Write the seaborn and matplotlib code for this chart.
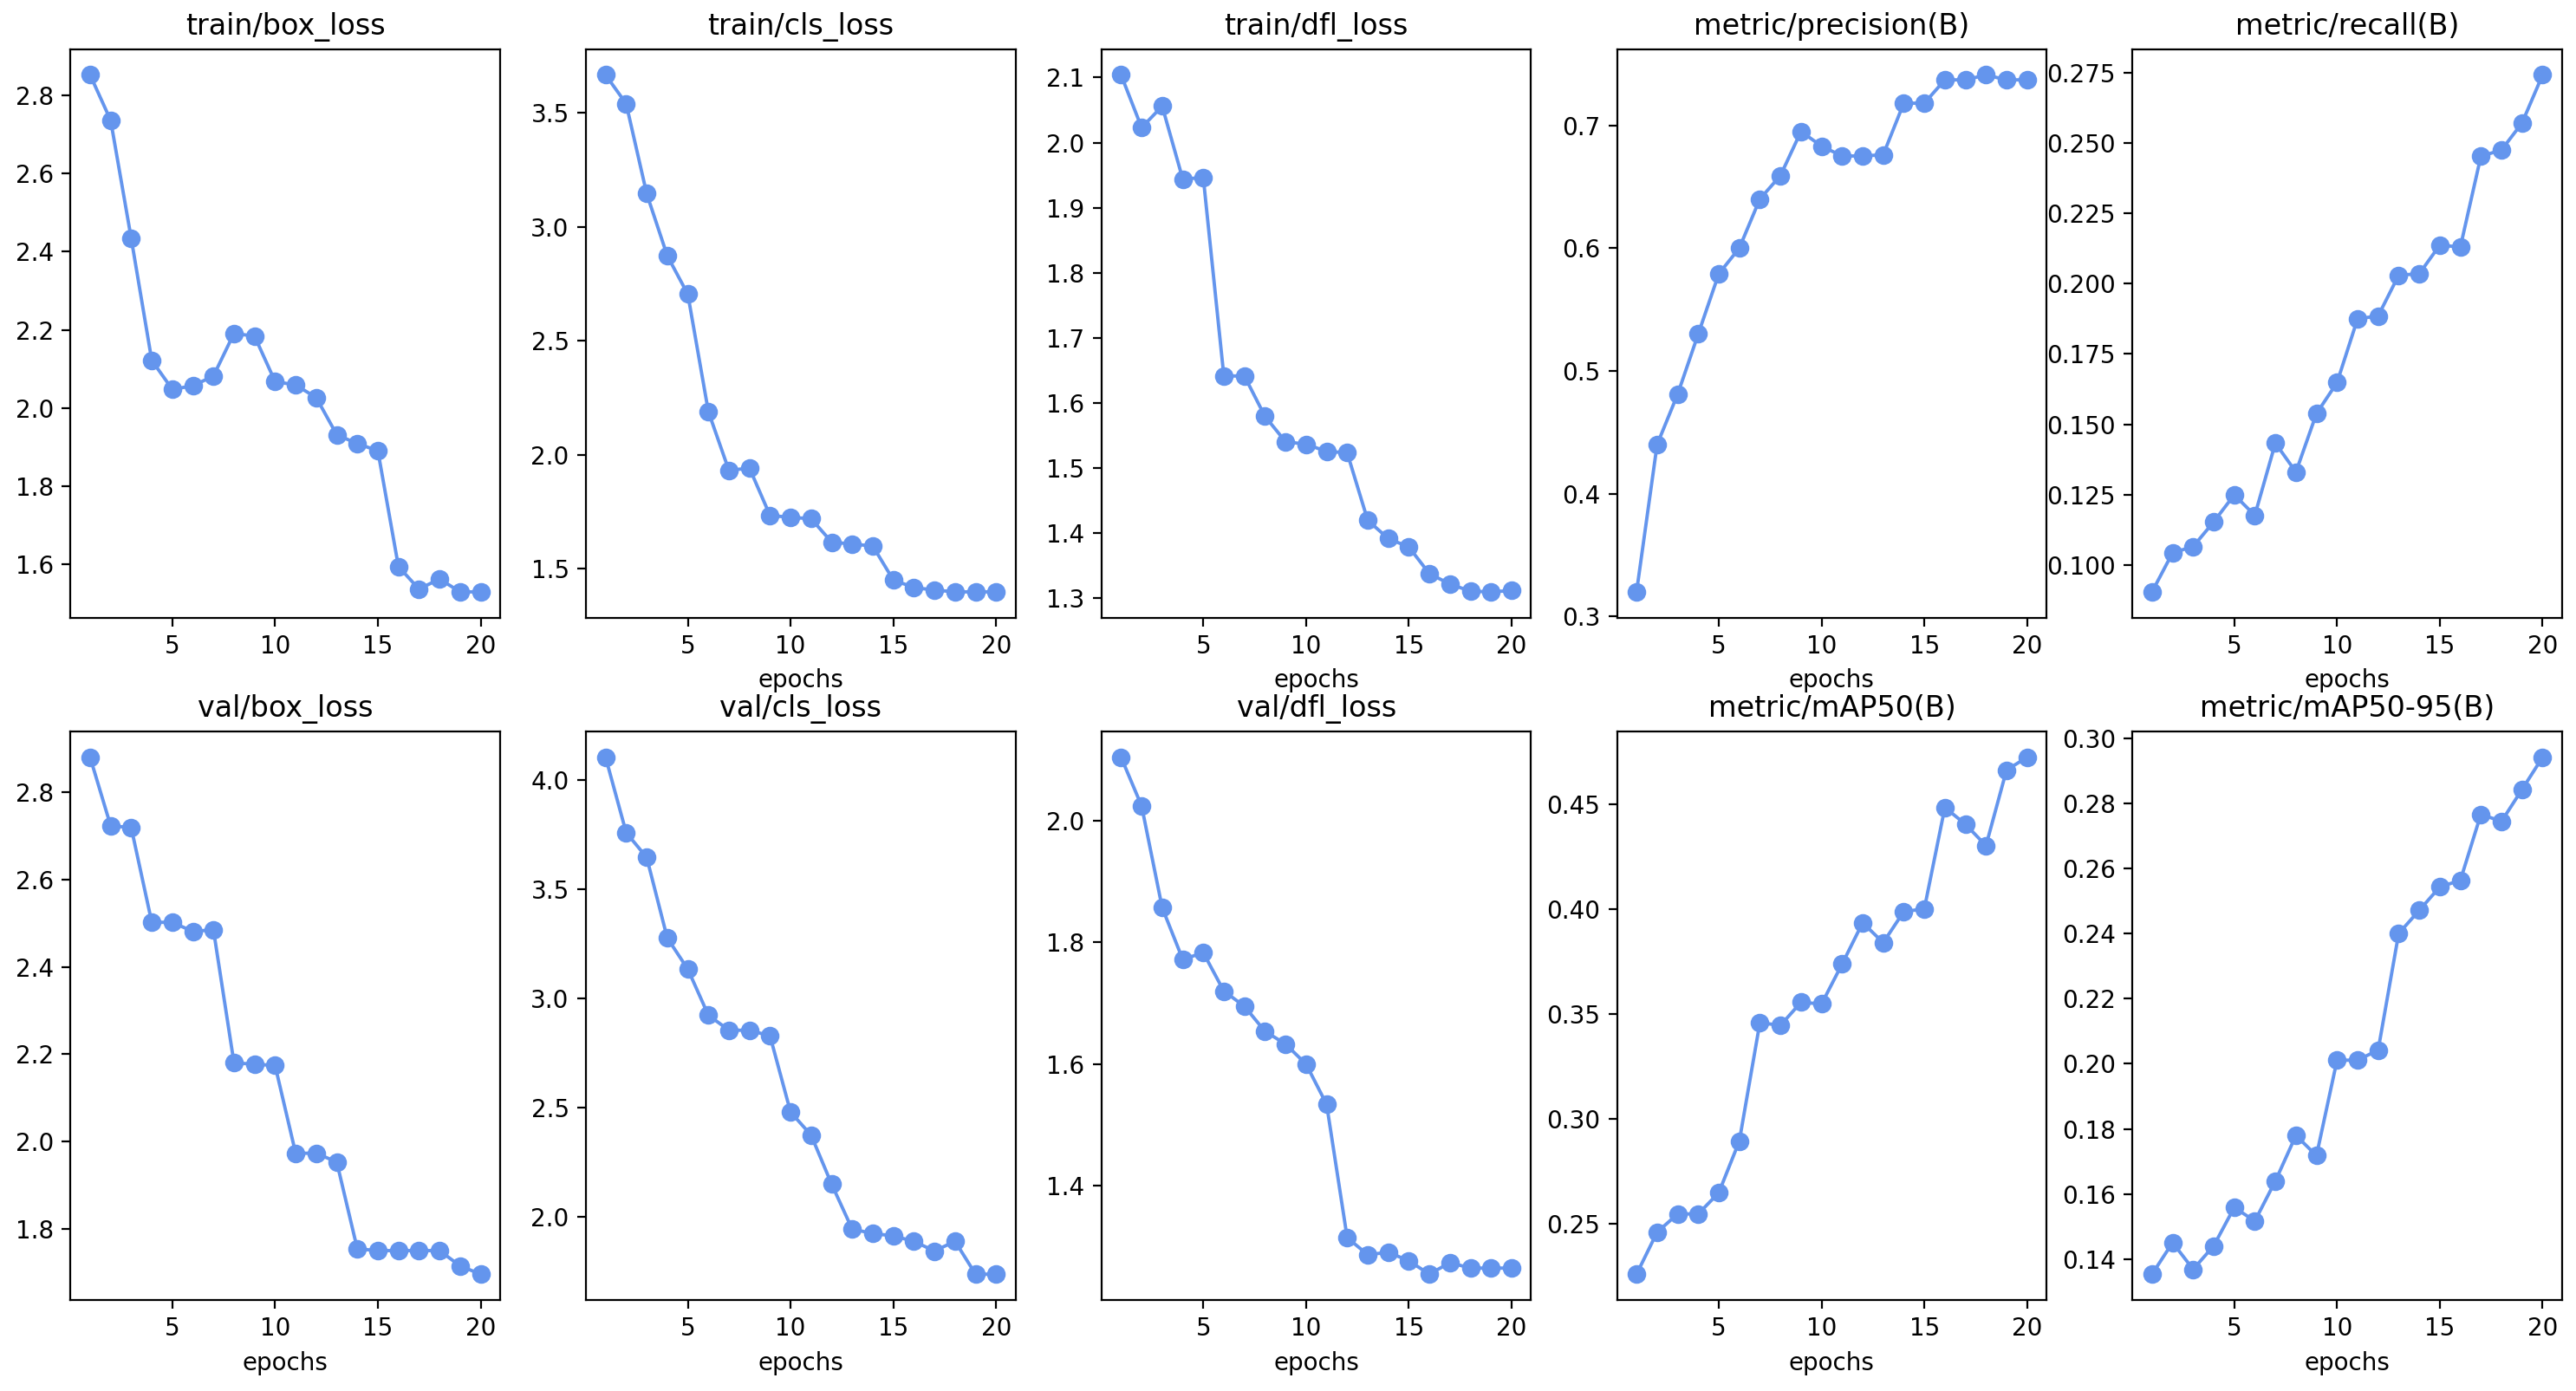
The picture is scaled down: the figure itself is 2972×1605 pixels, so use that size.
import matplotlib
matplotlib.use("Agg")
import matplotlib.pyplot as plt
import seaborn as sns

epochs = list(range(1, 21))

train_box_loss = [2.852, 2.736, 2.434, 2.122, 2.048, 2.057, 2.082, 2.191, 2.184, 2.068,
                  2.059, 2.027, 1.932, 1.909, 1.891, 1.595, 1.537, 1.563, 1.530, 1.530]
train_cls_loss = [3.667, 3.541, 3.146, 2.874, 2.705, 2.190, 1.932, 1.942, 1.734, 1.726,
                  1.720, 1.617, 1.609, 1.600, 1.451, 1.418, 1.407, 1.399, 1.399, 1.399]
train_dfl_loss = [2.104, 2.023, 2.056, 1.944, 1.946, 1.641, 1.641, 1.579, 1.540, 1.536,
                  1.525, 1.523, 1.419, 1.391, 1.378, 1.337, 1.321, 1.310, 1.309, 1.311]
precision = [0.320, 0.440, 0.481, 0.530, 0.579, 0.600, 0.640, 0.659, 0.695, 0.683,
             0.675, 0.675, 0.676, 0.718, 0.718, 0.737, 0.737, 0.741, 0.737, 0.737]
recall = [0.0904, 0.1043, 0.1065, 0.1153, 0.1249, 0.1176, 0.1433, 0.1330, 0.1538, 0.1648,
          0.1875, 0.1885, 0.2030, 0.2035, 0.2137, 0.2130, 0.2453, 0.2475, 0.2571, 0.2742]
val_box_loss = [2.880, 2.723, 2.719, 2.502, 2.502, 2.481, 2.485, 2.180, 2.177, 2.174,
                1.973, 1.973, 1.953, 1.754, 1.750, 1.750, 1.750, 1.750, 1.715, 1.696]
val_cls_loss = [4.106, 3.761, 3.647, 3.278, 3.135, 2.924, 2.855, 2.855, 2.829, 2.480,
                2.374, 2.149, 1.943, 1.924, 1.912, 1.888, 1.843, 1.888, 1.737, 1.737]
val_dfl_loss = [2.104, 2.024, 1.857, 1.772, 1.783, 1.720, 1.695, 1.654, 1.633, 1.600,
                1.534, 1.315, 1.287, 1.291, 1.277, 1.255, 1.274, 1.265, 1.265, 1.265]
map50 = [0.226, 0.246, 0.2547, 0.2547, 0.2648, 0.2894, 0.3458, 0.3445, 0.3555, 0.3547,
         0.3737, 0.3934, 0.3839, 0.3987, 0.400, 0.4483, 0.4403, 0.4301, 0.4661, 0.4722]
map50_95 = [0.1354, 0.1451, 0.1369, 0.1441, 0.1559, 0.1517, 0.1640, 0.1780, 0.1718, 0.2011,
            0.2011, 0.2042, 0.2400, 0.2471, 0.2543, 0.2563, 0.2766, 0.2744, 0.2842, 0.2941]

titles = ["train/box_loss", "train/cls_loss", "train/dfl_loss", "metric/precision(B)", "metric/recall(B)",
          "val/box_loss", "val/cls_loss", "val/dfl_loss", "metric/mAP50(B)", "metric/mAP50-95(B)"]
series = [train_box_loss, train_cls_loss, train_dfl_loss, precision, recall,
          val_box_loss, val_cls_loss, val_dfl_loss, map50, map50_95]

color = "cornflowerblue"

fig, axes = plt.subplots(2, 5, figsize=(2972 / 200, 1605 / 200), dpi=200)
axes = axes.ravel()

for i, (ax, title, vals) in enumerate(zip(axes, titles, series)):
    sns.lineplot(x=epochs, y=vals, ax=ax, color=color, marker="o",
                 markersize=7, markeredgecolor=color, linewidth=1.4)
    ax.set_title(title, fontsize=12)
    ax.set_ylabel("")
    # first panel has no x label in the original
    ax.set_xlabel("epochs" if i > 0 else "")

fig.subplots_adjust(left=0.0274, right=0.9946, top=0.9647, bottom=0.0654,
                    wspace=0.2, hspace=0.2)
plt.savefig("out.png", dpi=200)
plt.close()
